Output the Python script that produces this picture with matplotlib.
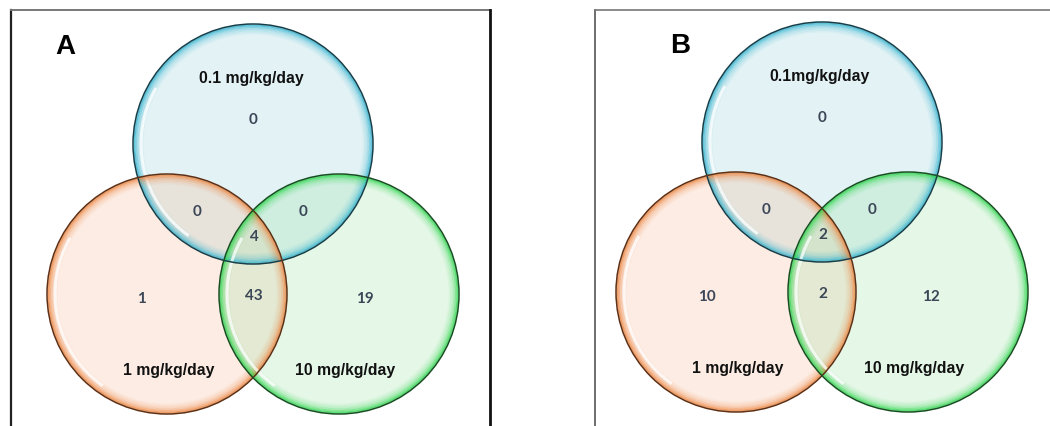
import numpy as np
import matplotlib.pyplot as plt
from matplotlib.patches import Circle, Arc

# region counts: [only 0.1, 0.1&1, 0.1&10, all three, only 1, 1&10, only 10]
counts_a = [0, 0, 0, 4, 1, 43, 19]
counts_b = [0, 0, 0, 2, 10, 2, 12]
set_labels_a = ["0.1 mg/kg/day", "1 mg/kg/day", "10 mg/kg/day"]
set_labels_b = ["0.1mg/kg/day", "1 mg/kg/day", "10 mg/kg/day"]
panel_names = ["A", "B"]

fills = ["#8fd0dc", "#f9b894", "#9be3a4"]
rings = ["#35b4d0", "#ec8540", "#2fd64e"]
darks = ["#173f4a", "#5e3015", "#174f22"]
num_col = "#3b4656"

fig = plt.figure(figsize=(10.5, 4.26), dpi=100)
ax = fig.add_axes([0, 0, 1, 1])
ax.set_xlim(0, 1050)
ax.set_ylim(426, 0)
ax.set_aspect("equal")
ax.axis("off")


def venn(cx, cy, counts, labels, dx):
    # circle centres: top, lower-left, lower-right
    cen = [(cx, cy - 150), (cx - 86, cy), (cx + 86, cy)]
    r = 120
    for (x, y), f in zip(cen, fills):
        ax.add_patch(Circle((x, y), r, facecolor=f, alpha=0.26, lw=0, zorder=1))
    for (x, y), rc, dk in zip(cen, rings, darks):
        # soft coloured glow just inside the rim
        for k, a in enumerate([0.75, 0.5, 0.32, 0.2, 0.12, 0.06]):
            ax.add_patch(Circle((x, y), r - 1.5 - 1.6 * k, facecolor="none",
                                edgecolor=rc, lw=1.3, alpha=a, zorder=2))
        ax.add_patch(Arc((x, y), 2 * r - 16, 2 * r - 16, theta1=125, theta2=210,
                         color="white", lw=2.2, alpha=0.75, zorder=2))
        ax.add_patch(Circle((x, y), r, facecolor="none", edgecolor=dk, lw=1.1, zorder=3))
    tx, ty = cen[0]
    pos = [(tx, ty - 24), (tx - 56, cy - 82), (tx + 50, cy - 82), (tx + 1, cy - 57),
           (cx - 112 + dx, cy + 5), (tx + 1, cy + 2), (cx + 112 + dx, cy + 5)]
    for (x, y), v in zip(pos, counts):
        ax.text(x, y, str(v), ha="center", va="center", fontsize=11,
                fontweight="bold", color=num_col, family="Lato", zorder=5)
    lpos = [(tx - 2, ty - 66), (cx - 84, cy + 76), (cx + 92, cy + 76)]
    for (x, y), s in zip(lpos, labels):
        ax.text(x, y, s, ha="center", va="center", fontsize=11.3,
                fontweight="bold", color="#111111", family="Liberation Sans", zorder=5)


venn(253, 294, counts_a, set_labels_a, 0)
venn(822, 292, counts_b, set_labels_b, -3)
ax.text(65, 47, panel_names[0], fontsize=20, fontweight="bold", ha="center", va="center", family="Liberation Sans")
ax.text(680, 46, panel_names[1], fontsize=20, fontweight="bold", ha="center", va="center", family="Liberation Sans")

# frames
ax.plot([11, 11], [426, 10], color="#222222", lw=1.6)
ax.plot([11, 490], [10, 10], color="#777777", lw=1.4)
ax.plot([490, 490], [10, 426], color="#111111", lw=2)
ax.plot([595, 595], [426, 10], color="#555555", lw=1.2)
ax.plot([595, 1050], [10, 10], color="#777777", lw=1.2)

fig.savefig("out.png", dpi=100)
